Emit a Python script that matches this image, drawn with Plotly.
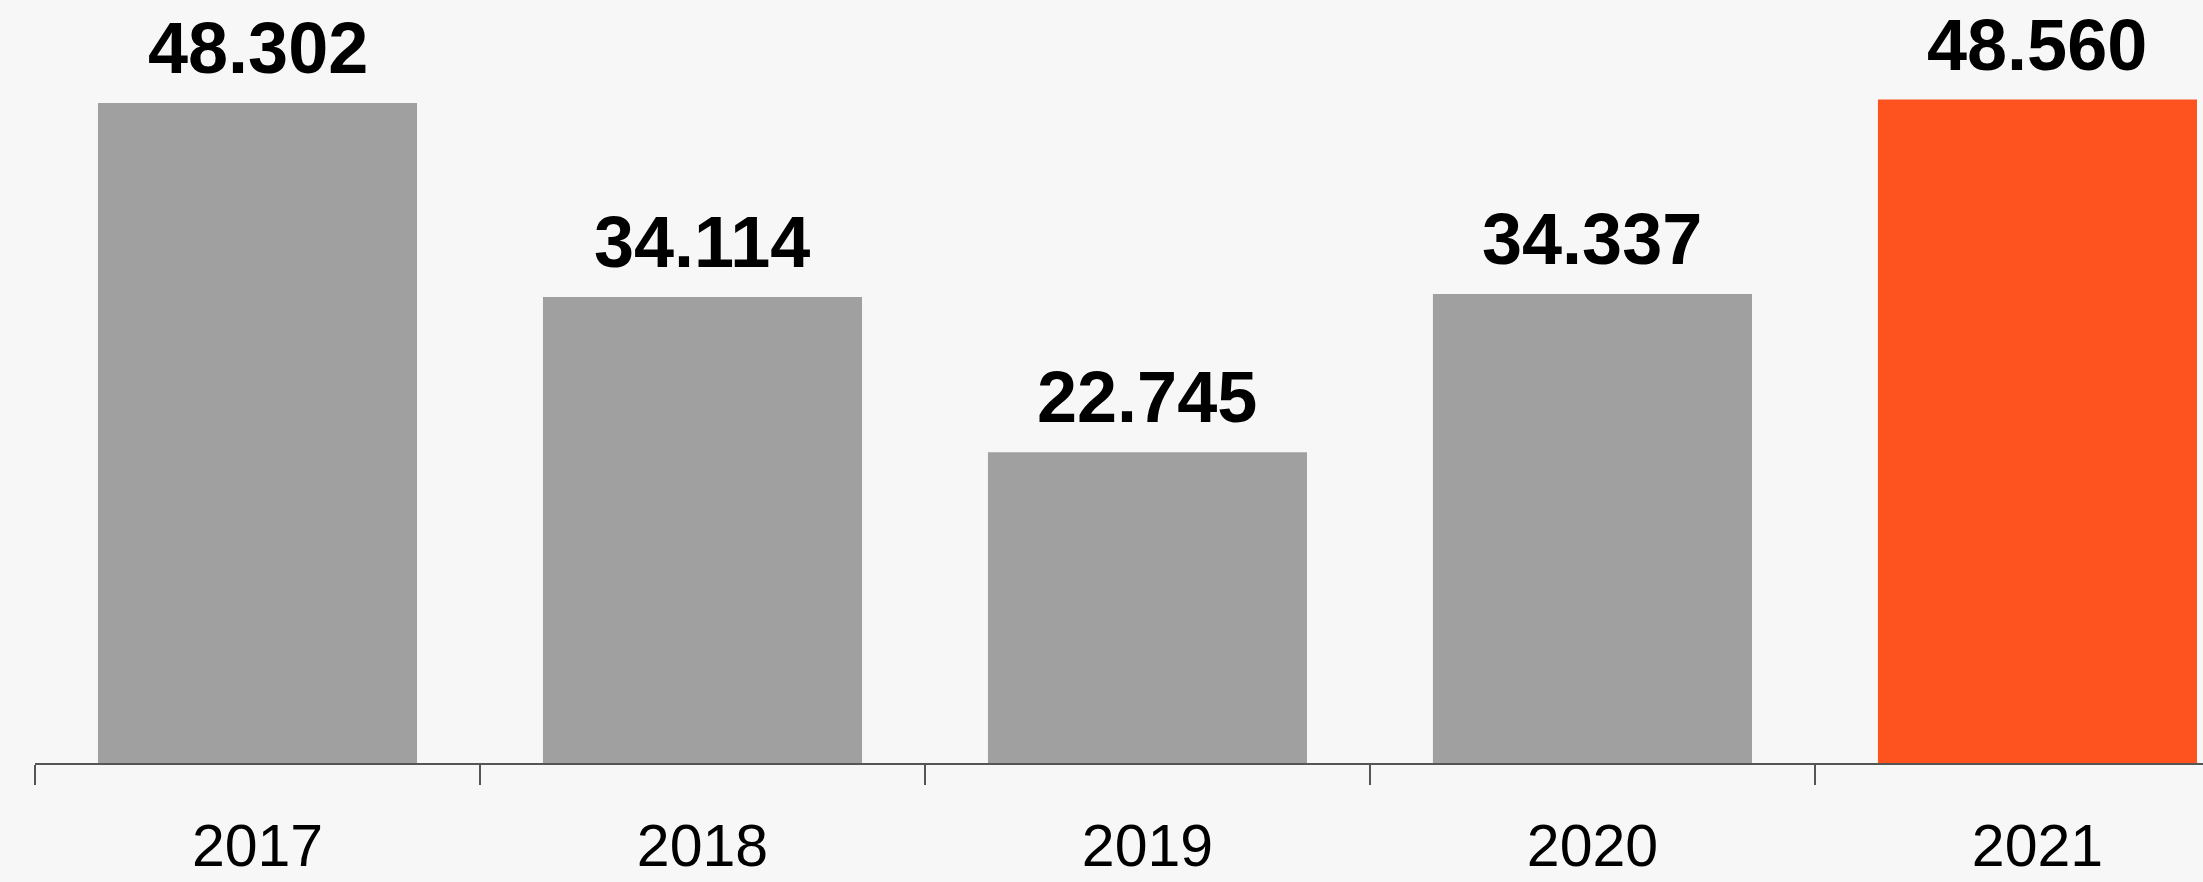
import plotly.graph_objects as go

years = ["2017", "2018", "2019", "2020", "2021"]
values = [48.302, 34.114, 22.745, 34.337, 48.560]
labels = ["48.302", "34.114", "22.745", "34.337", "48.560"]
colors = ["#a0a0a0", "#a0a0a0", "#a0a0a0", "#a0a0a0", "#ff531f"]

FONT = "Liberation Sans, Arial, sans-serif"

fig = go.Figure(go.Bar(
    x=years, y=values, marker_color=colors, marker_line_width=0,
    width=0.717,
))

for i, (v, t) in enumerate(zip(values, labels)):
    fig.add_annotation(x=i, y=v, xref="x", yref="y", text=f"<b>{t}</b>",
                       showarrow=False, yanchor="bottom", yshift=13,
                       font=dict(family=FONT, size=72, color="#000000"))

fig.update_layout(
    width=2203, height=882,
    margin=dict(l=35, r=0, t=0, b=119),
    paper_bgcolor="#f7f7f7", plot_bgcolor="#f7f7f7",
    showlegend=False,
    xaxis=dict(type="category", range=[-0.5, 4.372], showgrid=False,
               showline=True, linecolor="#555555", linewidth=1.5,
               ticks="outside", ticklen=20, tickcolor="#555555", tickwidth=1.5,
               tickson="boundaries", ticklabelstandoff=30,
               tickfont=dict(family=FONT, size=59, color="#000000")),
    yaxis=dict(range=[0, 55.85], visible=False, showgrid=False, zeroline=False),
)

fig.write_html("out.html", config={"displayModeBar": False})
with open("out.html", "r", encoding="utf-8") as f:
    html = f.read()
html = html.replace("<body>", '<body style="margin:0;background:#f7f7f7">', 1)
with open("out.html", "w", encoding="utf-8") as f:
    f.write(html)
